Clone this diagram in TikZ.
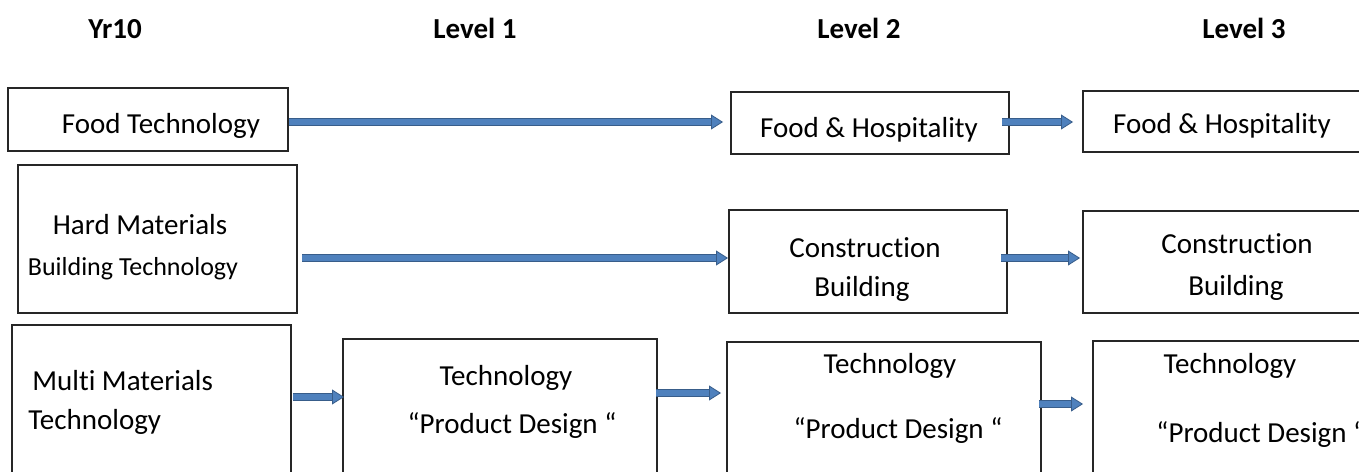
\documentclass[tikz,border=0pt]{standalone}
\usepackage{fontspec}
\setmainfont{Carlito}[Ligatures=NoCommon]
\usetikzlibrary{calc}
\usetikzlibrary{fit}
\usetikzlibrary{arrows.meta}
\definecolor{flowblue}{HTML}{4F81BD}
\definecolor{flowedge}{HTML}{385D8A}
\tikzset{
  stagebox/.style={draw=black!85, line width=0.7pt, inner sep=0pt, outer sep=0pt},
  lbl/.style={anchor=base, inner sep=0pt, font=\fontsize{14.5}{17}\selectfont},
  lblsmall/.style={lbl, font=\fontsize{13}{15}\selectfont},
  lblhead/.style={lbl, font=\bfseries\fontsize{14.5}{17}\selectfont},
  flow/.style={draw=flowblue, line width=3pt,
    -{Triangle[length=6pt,width=7.5pt,fill=flowblue,color=flowedge,line width=0.4pt]},
    preaction={draw=flowedge, line width=3.8pt, arrows=-, shorten >=5.5pt}}
}
\newcommand{\stage}[5]{\node[stagebox, fit={(#2,#3) (#4,#5)}] (#1) {};}
\newcommand{\lbl}[4]{\node[lbl] (#1) at (#2,#3) {#4};}

\begin{document}
\begin{tikzpicture}[x=0.5pt,y=-0.5pt]
        \path[use as bounding box, fill=white] (0,0) rectangle (1359,471);
        \clip (0,0) rectangle (1359,471);

        % headings
        \node[lblhead] (yrHead) at (115,39) {Yr10};
        \node[lblhead] (lvOneHead) at (475,39) {Level 1};
        \node[lblhead] (lvTwoHead) at (859,39) {Level 2};
        \node[lblhead] (lvThreeHead) at (1244,39) {Level 3};

        % Yr10
        \stage{ft}{8}{88}{288}{151}
        \stage{hm}{18}{165}{297}{313}
        \stage{mm}{12}{325}{291}{500}
        % Level 1
        \stage{tdA}{343}{339}{657}{500}
        % Level 2
        \stage{fhA}{731}{92}{1009}{154}
        \stage{cbA}{729}{210}{1007}{313}
        \stage{tdB}{727}{342}{1041}{500}
        % Level 3
        \stage{fhB}{1083}{91}{1380}{152}
        \stage{cbB}{1083}{211}{1380}{313}
        \stage{tdC}{1093}{341}{1380}{500}

        % labels for Yr10
        \lbl{ftText}{161}{133}{Food Technology}
        \lbl{hmText}{140}{234}{Hard Materials}
        \node[lblsmall] (hmSub) at (133,275) {Building Technology};
        \node[lbl, anchor=base west] (mmText) at (32,390) {Multi Materials};
        \node[lbl, anchor=base west] (mmSub) at (28,429) {Technology};
        % labels for Level 1
        \lbl{tdAText}{506}{385}{Technology}
        \lbl{tdASub}{512}{433}{“Product Design “}
        % labels for Level 2
        \lbl{fhAText}{869}{137}{Food \& Hospitality}
        \lbl{cbAText}{865}{257}{Construction}
        \lbl{cbASub}{862}{296}{Building}
        \lbl{tdBText}{890}{373}{Technology}
        \lbl{tdBSub}{898}{438}{“Product Design “}
        % labels for Level 3
        \lbl{fhBText}{1222}{133}{Food \& Hospitality}
        \lbl{cbBText}{1237}{253}{Construction}
        \lbl{cbBSub}{1236}{295}{Building}
        \lbl{tdCText}{1230}{373}{Technology}
        \node[lbl, anchor=base west] (tdCSub) at (1156,442) {“Product Design “};

        % arrows
        \draw[flow] ($(ft.north east)+(1,34)$) -- ($(fhA.north west)+(-8,30)$);
        \draw[flow] ($(fhA.north east)+(-7,30)$) -- ($(fhB.north west)+(-10,31)$);
        \draw[flow] ($(hm.north east)+(5,93)$) -- ($(cbA.north west)+(-1,48)$);
        \draw[flow] ($(cbA.north east)+(-6,48)$) -- ($(cbB.north west)+(-3,47)$);
        \draw[flow] ($(mm.north east)+(2,72)$) -- ($(tdA.north west)+(1,58)$);
        \draw[flow] ($(tdA.north east)+(-1,54)$) -- ($(tdB.north west)+(-6,51)$);
        \draw[flow] ($(tdB.north east)+(-2,62)$) -- ($(tdC.north west)+(-10,63)$);
\end{tikzpicture}
\end{document}
